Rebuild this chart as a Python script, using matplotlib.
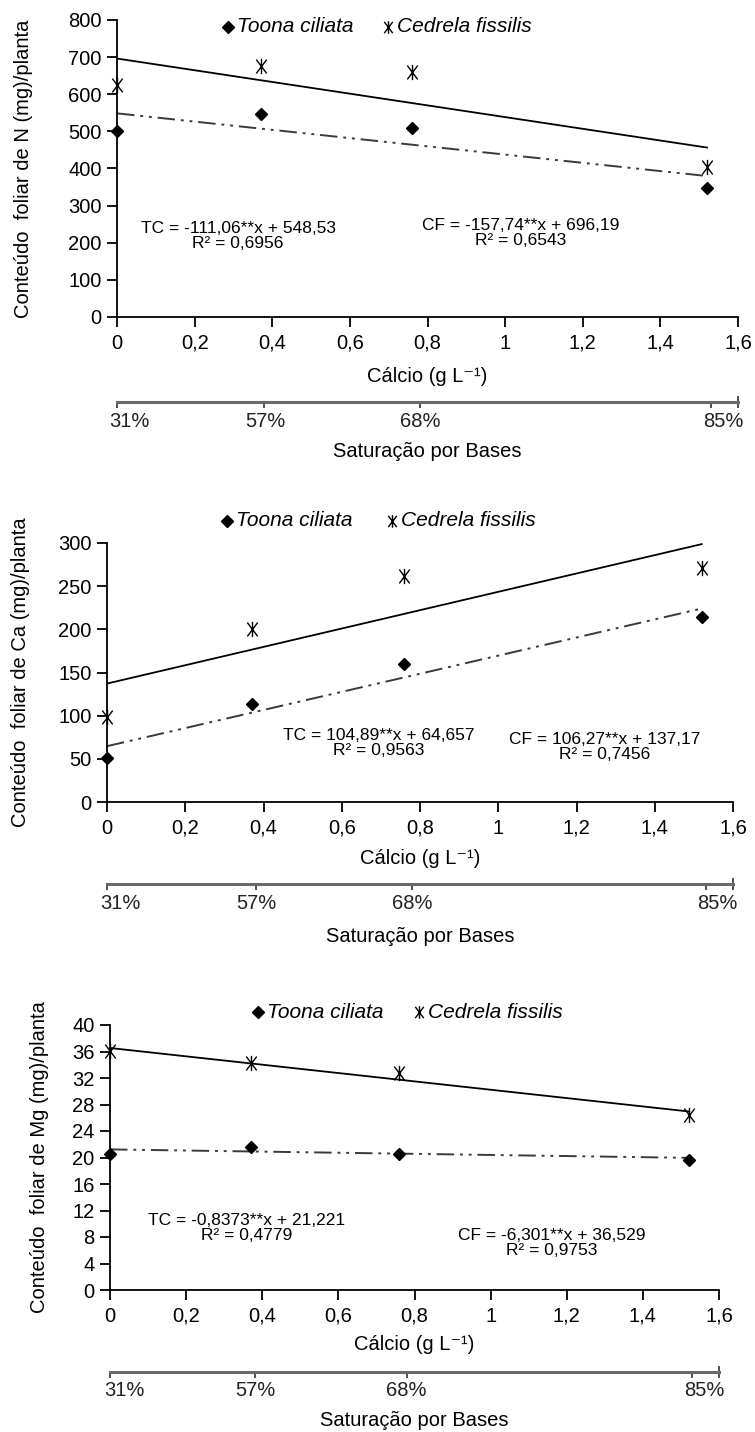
import matplotlib
matplotlib.use("Agg")
import matplotlib.pyplot as plt
from matplotlib.path import Path
import numpy as np

plt.rcParams['font.family'] = ['Liberation Sans', 'DejaVu Sans']

# ---------------- data ----------------
calcio = [0.0, 0.37, 0.76, 1.52]
sat_labels = ['31%', '57%', '68%', '85%']
sat_pos = [0.0, 0.38, 0.78, 1.53]
x_ticks = [0, 0.2, 0.4, 0.6, 0.8, 1.0, 1.2, 1.4, 1.6]
x_ticklabels = ['0', '0,2', '0,4', '0,6', '0,8', '1', '1,2', '1,4', '1,6']

# N
n_tc = [500, 547, 508, 348]
n_cf = [625, 676, 660, 404]
n_tc_coef = (-111.06, 548.53)
n_cf_coef = (-157.74, 696.19)
n_yticks = [0, 100, 200, 300, 400, 500, 600, 700, 800]
n_eq_tc = 'TC = -111,06**x + 548,53\nR² = 0,6956'
n_eq_cf = 'CF = -157,74**x + 696,19\nR² = 0,6543'

# Ca
ca_tc = [51, 113, 160, 214]
ca_cf = [98, 200, 262, 271]
ca_tc_coef = (104.89, 64.657)
ca_cf_coef = (106.27, 137.17)
ca_yticks = [0, 50, 100, 150, 200, 250, 300]
ca_eq_tc = 'TC = 104,89**x + 64,657\nR² = 0,9563'
ca_eq_cf = 'CF = 106,27**x + 137,17\nR² = 0,7456'

# Mg
mg_tc = [20.6, 21.6, 20.6, 19.6]
mg_cf = [36.1, 34.3, 32.7, 26.4]
mg_tc_coef = (-0.8373, 21.221)
mg_cf_coef = (-6.301, 36.529)
mg_yticks = [0, 4, 8, 12, 16, 20, 24, 28, 32, 36, 40]
mg_eq_tc = 'TC = -0,8373**x + 21,221\nR² = 0,4779'
mg_eq_cf = 'CF = -6,301**x + 36,529\nR² = 0,9753'

ylabels = ['Conteúdo  foliar de N (mg)/planta',
           'Conteúdo  foliar de Ca (mg)/planta',
           'Conteúdo  foliar de Mg (mg)/planta']
legend_names = ['Toona ciliata', 'Cedrela fissilis']
xlabel = 'Cálcio (g L⁻¹)'
sat_title = 'Saturação por Bases'

W, H = 755, 1432
fig = plt.figure(figsize=(W / 100, H / 100), dpi=100)

def px_axes(l, t, r, b):
    return fig.add_axes([l / W, (H - b) / H, (r - l) / W, (b - t) / H])

# Excel-like asterisk: X plus vertical bar
asterisk = Path([(-0.75, -1), (0.75, 1), (-0.75, 1), (0.75, -1), (0, -1.1), (0, 1.1)],
                [Path.MOVETO, Path.LINETO, Path.MOVETO, Path.LINETO, Path.MOVETO, Path.LINETO])
tc_style = (0, (9, 3, 1.5, 3, 1.5, 3))
FS = 14.5

def panel(box, tc, cf, tc_coef, cf_coef, yticks, ylabel, eq_tc, eq_cf,
          eq_tc_pos, eq_cf_pos, leg_y, leg_x, ylab_x, sec_y, xlabel_y,
          satlab_y, sat_title_y, sat_lab_x):
    l, t, r, b = box
    ax = px_axes(l, t, r, b)
    xs = np.array([calcio[0], calcio[-1]])
    ax.plot(xs, tc_coef[0] * xs + tc_coef[1], color='#3a3a3a', lw=1.4,
            linestyle=tc_style, zorder=2)
    ax.plot(xs, cf_coef[0] * xs + cf_coef[1], color='black', lw=1.3, zorder=2)
    ax.plot(calcio, tc, linestyle='none', marker='D', ms=6, color='black',
            clip_on=False, zorder=3)
    ax.plot(calcio, cf, linestyle='none', marker=asterisk, ms=11, mew=1.0,
            color='black', mfc='none', clip_on=False, zorder=3)
    ax.set_xlim(0, 1.6)
    ax.set_ylim(yticks[0], yticks[-1])
    ax.set_yticks(yticks)
    ax.set_yticklabels([str(v) for v in yticks])
    ax.set_xticks(x_ticks)
    ax.set_xticklabels(x_ticklabels)
    for s in ['top', 'right']:
        ax.spines[s].set_visible(False)
    for s in ['left', 'bottom']:
        ax.spines[s].set_linewidth(1.3)
    ax.tick_params(direction='out', length=7, width=1.3, labelsize=FS,
                   colors='black')
    ax.tick_params(axis='x', pad=5)
    ax.tick_params(axis='y', pad=4)
    ax.patch.set_alpha(0)
    fig.text(ylab_x / W, 1 - (t + b) / 2 / H, ylabel, rotation=90,
             ha='center', va='center', fontsize=FS)
    # equations
    fig.text(eq_tc_pos[0] / W, 1 - eq_tc_pos[1] / H, eq_tc,
             ha='center', va='center', fontsize=12.5, linespacing=1.0)
    fig.text(eq_cf_pos[0] / W, 1 - eq_cf_pos[1] / H, eq_cf,
             ha='center', va='center', fontsize=12.5, linespacing=1.0)
    # legend
    ly = 1 - leg_y / H
    fig.lines.append(plt.Line2D([leg_x[0] / W], [ly], marker='D', ms=6,
                                color='black', linestyle='none',
                                transform=fig.transFigure))
    fig.text((leg_x[0] + 9) / W, ly, legend_names[0], style='italic',
             fontsize=15, ha='left', va='center')
    fig.lines.append(plt.Line2D([leg_x[1] / W], [ly], marker=asterisk, ms=9,
                                mew=1.0, color='black', linestyle='none',
                                transform=fig.transFigure))
    fig.text((leg_x[1] + 9) / W, ly, legend_names[1], style='italic',
             fontsize=15, ha='left', va='center')
    # x label
    fig.text((l + r) / 2 / W, 1 - xlabel_y / H, xlabel,
             ha='center', va='center', fontsize=FS)
    # secondary axis (Saturação por Bases)
    sax = px_axes(l, sec_y - 1, r, sec_y)
    sax.set_xlim(0, 1.6)
    sax.set_yticks([])
    for s in ['top', 'right', 'left']:
        sax.spines[s].set_visible(False)
    sax.spines['bottom'].set_color('#6a6a6a')
    sax.spines['bottom'].set_linewidth(2.2)
    sax.patch.set_alpha(0)
    sax.set_xticks(sat_pos)
    sax.set_xticklabels([])
    sax.set_xticks([0, 1.6], minor=True)
    sax.tick_params(axis='x', which='major', direction='out', length=4,
                    width=1.2, colors='#333333')
    sax.tick_params(axis='x', which='minor', direction='inout', length=8,
                    width=1.2, colors='#333333')
    for lab, xp in zip(sat_labels, sat_lab_x):
        fig.text(xp / W, 1 - satlab_y / H, lab, ha='center', va='center',
                 fontsize=FS, color='#222222')
    fig.text((l + r) / 2 / W, 1 - sat_title_y / H, sat_title,
             ha='center', va='center', fontsize=FS)
    return ax

panel((117, 20, 738, 317), n_tc, n_cf, n_tc_coef, n_cf_coef, n_yticks,
      ylabels[0], n_eq_tc, n_eq_cf,
      (238, 236), (521, 233),
      27, (228, 388), 24, 402, 377, 422, 452, (129, 265, 420, 723))

panel((107, 543, 733, 802), ca_tc, ca_cf, ca_tc_coef, ca_cf_coef, ca_yticks,
      ylabels[1], ca_eq_tc, ca_eq_cf,
      (379, 743), (605, 747),
      521, (227, 392), 21, 884, 858, 904, 937, (120, 256, 412, 717))

panel((110, 1025, 719, 1290), mg_tc, mg_cf, mg_tc_coef, mg_cf_coef, mg_yticks,
      ylabels[2], mg_eq_tc, mg_eq_cf,
      (247, 1228), (552, 1243),
      1012, (258, 419), 40, 1372, 1345, 1390, 1420, (124, 255, 406, 704))

fig.savefig('out.png', dpi=100)
